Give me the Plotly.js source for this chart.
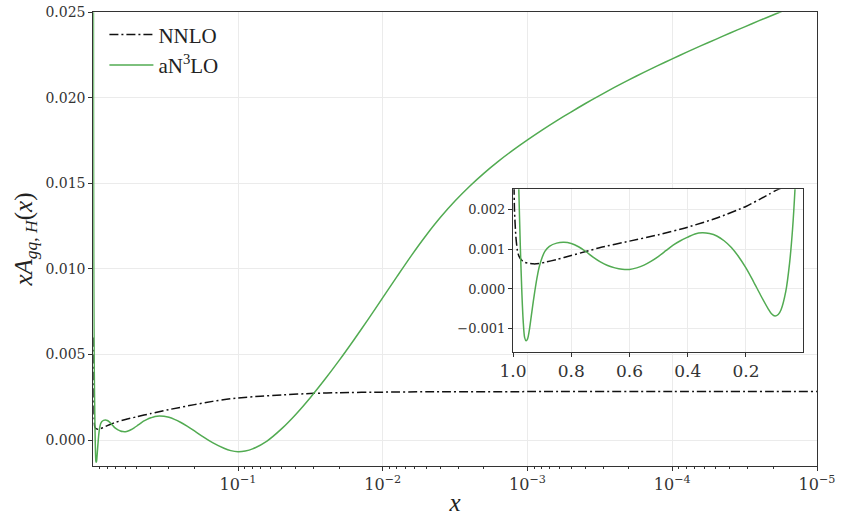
<!DOCTYPE html>
<html><head><meta charset="utf-8">
<script src="https://cdn.plot.ly/plotly-3.0.1.min.js"></script>
<style>html,body{margin:0;padding:0;background:#fff}#chart{width:842px;height:516px}</style>
</head><body><div id="chart"></div>
<script>
// ---- data ----
const xNNLO = [0.9995,0.998,0.995,0.99,0.985,0.98,0.97,0.96,0.95,0.93,0.91,0.89,0.85,0.8,0.75,0.7,0.6,0.5,0.4,0.3,0.2,0.15,0.12,0.1,0.07,0.05,0.03,0.02,0.01,0.005,0.001,0.0001,0.00001];
const yNNLO = [0.006,0.0036,0.0020,0.0013,0.00097,0.00083,0.00072,0.00067,0.00065,0.00063,0.00064,0.00067,0.00074,0.00084,0.00094,0.00104,0.0012,0.00136,0.00155,0.00178,0.00207,0.00226,0.00238,0.00246,0.00256,0.00264,0.00273,0.00277,0.0028,0.00282,0.00283,0.00284,0.00284];

const xAN3LO = [0.9995,0.997,0.993,0.989,0.985,0.98,0.975,0.97,0.965,0.96,0.955,0.95,0.945,0.94,0.935,0.93,0.925,0.92,0.915,0.91,0.9,0.89,0.875,0.85,0.825,
  0.8,0.775,0.75,0.725,0.7,0.675,0.65,0.625,0.6,0.575,0.55,0.525,0.5,0.475,0.45,0.425,0.4,0.375,0.35,0.325,0.3,0.275,0.25,0.225,0.2,0.175,0.15,0.125,0.1122,0.1,0.0891,
  0.0794,0.0631,0.0501,0.0398,0.0316,0.0251,0.01995,0.01585,0.01259,0.01,
  0.00794,0.00631,0.00501,0.00398,0.00316,0.00251,0.001995,0.001585,0.001259,0.001,
  0.000794,0.000631,0.000501,0.000398,0.000316,0.000251,0.0001995,0.0001585,0.0001259,0.0001,
  0.0000794,0.0000631,0.0000501,0.0000398,0.0000316,0.0000251,0.00001995,0.00001585,0.00001259,0.00001];
const yAN3LO = [0.040,0.020,0.0105,0.0065,0.0042,0.0025,0.0011,0.0000,-0.0008,-0.00122,-0.0013,-0.00125,-0.00108,-0.00083,-0.00056,-0.0003,-0.00005,0.00018,0.00038,0.00055,0.00079,0.00095,0.00107,0.00115,0.00117,
  0.00114,0.00106,0.00094,0.0008,0.00068,0.00059,0.00053,0.000495,0.00049,0.00053,0.0006,0.0007,0.00082,0.00096,0.0011,0.00121,0.0013,0.00138,0.00141,0.00139,0.00133,0.00121,0.00104,0.00081,0.00053,0.0002,-0.00015,-0.00048,-0.00062,-0.00068,-0.00064,
  -0.00052,-0.00006,0.00065,0.00151,0.00249,0.00355,0.00467,0.00585,0.00707,0.00832,
  0.00958,0.01081,0.01197,0.01303,0.01398,0.01483,0.01560,0.01630,0.01694,0.01754,
  0.01811,0.01865,0.01917,0.01967,0.02015,0.02061,0.02105,0.02147,0.02188,0.02228,
  0.02267,0.02305,0.02342,0.02379,0.02415,0.02451,0.02486,0.02521,0.02556,0.02590];

const seriesNames = ['NNLO', 'aN<sup>3</sup>LO'];
const mainTickVals = [1e-1, 1e-2, 1e-3, 1e-4, 1e-5];
const mainTickText = ['10<sup>\u22121</sup>','10<sup>\u22122</sup>','10<sup>\u22123</sup>','10<sup>\u22124</sup>','10<sup>\u22125</sup>'];
const mainYTicks = [0, 0.005, 0.010, 0.015, 0.020, 0.025];
const insetXTicks = [1.0, 0.8, 0.6, 0.4, 0.2];
const insetXText = ['1.0', '0.8', '0.6', '0.4', '0.2'];
const insetYTicks = [-0.001, 0.000, 0.001, 0.002];

// ---- styling ----
const GREEN = '#52ab52';
const BLACK = '#111111';
const DASHDOT = '9px,3px,2px,3px';
const minorVals = [];
for (let n = -5; n <= -1; n++) for (let k = 2; k <= 9; k++) minorVals.push(k * Math.pow(10, n));

const traces = [
  {x: xNNLO, y: yNNLO, name: seriesNames[0], mode: 'lines', xaxis: 'x', yaxis: 'y',
   line: {color: BLACK, width: 1.5, dash: DASHDOT, shape: 'spline', smoothing: 0.6}},
  {x: xAN3LO, y: yAN3LO, name: seriesNames[1], mode: 'lines', xaxis: 'x', yaxis: 'y',
   line: {color: GREEN, width: 1.5, shape: 'spline', smoothing: 0.8}},
  {x: xNNLO, y: yNNLO, name: seriesNames[0], mode: 'lines', xaxis: 'x2', yaxis: 'y2', showlegend: false,
   line: {color: BLACK, width: 1.5, dash: DASHDOT, shape: 'spline', smoothing: 0.6}},
  {x: xAN3LO, y: yAN3LO, name: seriesNames[1], mode: 'lines', xaxis: 'x2', yaxis: 'y2', showlegend: false,
   line: {color: GREEN, width: 1.5, shape: 'spline', smoothing: 0.8}}
];

const axCommon = {showline: true, mirror: true, linecolor: '#333', linewidth: 1,
  ticks: 'outside', ticklen: 4, tickcolor: '#333', tickwidth: 1,
  showgrid: true, gridcolor: '#ebebeb', gridwidth: 1, zeroline: false};

const layout = {
  width: 842, height: 516,
  margin: {l: 0, r: 0, t: 0, b: 0},
  paper_bgcolor: '#ffffff', plot_bgcolor: '#ffffff',
  showlegend: true,
  legend: {x: 0.124, y: 0.972, xanchor: 'left', yanchor: 'top', bgcolor: 'rgba(0,0,0,0)',
    font: {family: 'Liberation Serif', size: 21, color: '#222'}, tracegroupgap: 0, itemwidth: 44},
  xaxis: Object.assign({}, axCommon, {
    type: 'log', range: [0, -5], domain: [93.3/842, 817/842], anchor: 'y',
    tickmode: 'array', tickvals: mainTickVals, ticktext: mainTickText,
    tickfont: {family: 'DejaVu Serif', size: 16, color: '#333'},
    minor: {tickmode: 'array', tickvals: minorVals, ticks: 'outside', ticklen: 2, tickcolor: '#333', showgrid: false},
    title: {text: '<i>x</i>', font: {family: 'Liberation Serif', size: 25, color: '#222'}, standoff: 8}
  }),
  yaxis: Object.assign({}, axCommon, {
    range: [-0.0015, 0.025], domain: [(516-465.7)/516, (516-12.3)/516], anchor: 'x',
    tickmode: 'array', tickvals: mainYTicks, tickformat: '.3f',
    tickfont: {family: 'DejaVu Serif', size: 14, color: '#333'},
    title: {text: '<i>xA</i><sub><i>gq</i>, <i>H</i></sub>(<i>x</i>)', font: {family: 'Liberation Serif', size: 25, color: '#222'}, standoff: 5}
  }),
  xaxis2: Object.assign({}, axCommon, {
    range: [1.0, 0.004], domain: [513/842, 803/842], anchor: 'y2',
    tickmode: 'array', tickvals: insetXTicks, ticktext: insetXText,
    tickfont: {family: 'DejaVu Serif', size: 17, color: '#333'}
  }),
  yaxis2: Object.assign({}, axCommon, {
    range: [-0.00158, 0.0025], domain: [(516-352)/516, (516-189.3)/516], anchor: 'x2',
    tickmode: 'array', tickvals: insetYTicks, tickformat: '.3f',
    tickfont: {family: 'DejaVu Serif', size: 13, color: '#333'}
  })
};

Plotly.newPlot('chart', traces, layout, {displayModeBar: false, staticPlot: true});
</script></body></html>
